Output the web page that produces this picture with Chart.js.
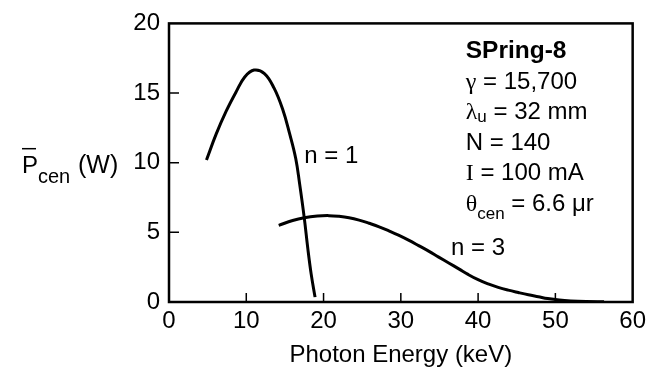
<!DOCTYPE html>
<html>
<head>
<meta charset="utf-8">
<script src="https://cdn.jsdelivr.net/npm/chart.js@4.4.1/dist/chart.umd.min.js"></script>
<style>
  html, body { margin: 0; padding: 0; background: #fff; }
</style>
</head>
<body>
<canvas id="chart" width="651" height="370"></canvas>
<script>
(function () {
  const SANS  = '"Liberation Sans", Arial, sans-serif';
  const SERIF = '"Liberation Serif", "Times New Roman", serif';

  // axis ticks
  const X_TICKS = [0, 10, 20, 30, 40, 50, 60];
  const Y_TICKS = [0, 5, 10, 15, 20];

  // n = 1 harmonic, photon energy (keV) vs central power (W)
  const N1_ENERGY = [4.85, 6.1, 7.4, 8.7, 9.8, 11.0, 12.35, 13.6, 14.7, 15.6, 16.4, 16.9, 17.5, 17.95, 18.4, 18.9];
  const N1_POWER  = [10.2, 12.05, 13.7, 15.1, 16.15, 16.65, 16.4, 15.35, 13.85, 12.1, 10.3, 8.5, 6.06, 3.9, 2.0, 0.35];

  // n = 3 harmonic
  const N3_ENERGY = [14.2, 16.0, 17.5, 19.2, 20.7, 22.0, 23.3, 24.6, 25.9, 27.2, 28.4, 29.7, 31.0, 32.3,
                     33.6, 34.9, 36.2, 37.5, 38.7, 40.0, 41.3, 42.6, 43.9, 45.2, 46.5, 47.8, 49.0, 50.5,
                     52.0, 54.0, 56.3];
  const N3_POWER  = [5.5, 5.85, 6.05, 6.17, 6.2, 6.15, 6.05, 5.88, 5.65, 5.4, 5.12, 4.8, 4.44, 4.05,
                     3.65, 3.22, 2.8, 2.38, 1.98, 1.6, 1.3, 1.05, 0.85, 0.68, 0.52, 0.38, 0.25, 0.14,
                     0.08, 0.04, 0.02];

  // parameter box, one row per line: [text, style]
  const PARAM_LINES = [
    [['SPring-8', 'bold']],
    [['γ', 'greek'], [' = 15,700', 'sans']],
    [['λ', 'greek'], ['u', 'sub'], [' = 32 mm', 'sans']],
    [['N = 140', 'sans']],
    [['I', 'greek'], [' = 100 mA', 'sans']],
    [['θ', 'greek'], ['cen', 'sub'], [' = 6.6 μr', 'sans']],
  ];

  const CURVE_LABELS = [
    { text: 'n = 1', x: 17.5, y: 10.0 },
    { text: 'n = 3', x: 36.5, y: 3.35 },
  ];

  const toPoints = (xs, ys) => xs.map((x, i) => ({ x, y: ys[i] }));

  const FONTS = {
    sans:  '24px ' + SANS,
    bold:  'bold 24.5px ' + SANS,
    greek: '24px ' + SERIF,
    sub:   '17px ' + SANS,
  };

  function drawRuns(ctx, runs, x, baseline) {
    runs.forEach(([text, style]) => {
      ctx.font = FONTS[style];
      const dy = style === 'sub' ? (text === 'u' ? 3 : 8) : 0;
      ctx.fillText(text, x, baseline + dy);
      x += ctx.measureText(text).width;
    });
  }

  const decorPlugin = {
    id: 'decor',
    afterDraw(chart) {
      const { ctx, chartArea: a, scales: { x, y } } = chart;
      ctx.save();
      ctx.strokeStyle = '#000';
      ctx.fillStyle = '#000';

      // frame
      ctx.lineWidth = 2.5;
      ctx.strokeRect(a.left, a.top, a.right - a.left, a.bottom - a.top);

      // inward ticks
      ctx.lineWidth = 1.5;
      ctx.beginPath();
      X_TICKS.slice(1, -1).forEach(v => {
        const px = x.getPixelForValue(v);
        ctx.moveTo(px, a.bottom);
        ctx.lineTo(px, a.bottom - 9);
      });
      Y_TICKS.slice(1, -1).forEach(v => {
        const py = y.getPixelForValue(v);
        ctx.moveTo(a.left, py);
        ctx.lineTo(a.left + 10, py);
      });
      ctx.stroke();

      ctx.textAlign = 'left';
      ctx.textBaseline = 'alphabetic';

      // y axis title: P-bar_cen (W)
      const base = y.getPixelForValue(10) + 10;
      ctx.font = '24px ' + SANS;
      ctx.fillText('P', 22, base);
      ctx.beginPath();
      ctx.lineWidth = 1.5;
      ctx.moveTo(22, base - 24);
      ctx.lineTo(36, base - 24);
      ctx.stroke();
      ctx.font = '20px ' + SANS;
      ctx.fillText('cen', 38, base + 10);
      ctx.font = '25px ' + SANS;
      ctx.fillText('(W)', 78, base);

      // curve labels
      ctx.font = FONTS.sans;
      CURVE_LABELS.forEach(l => {
        ctx.fillText(l.text, x.getPixelForValue(l.x), y.getPixelForValue(l.y));
      });

      // parameter box
      const left = x.getPixelForValue(38.4);
      let line = y.getPixelForValue(17.5);
      PARAM_LINES.forEach(runs => {
        drawRuns(ctx, runs, left, line);
        line += 30.5;
      });

      ctx.restore();
    },
  };

  const curve = (label, xs, ys) => ({
    label,
    data: toPoints(xs, ys),
    borderColor: '#000',
    borderWidth: 3,
    pointRadius: 0,
    fill: false,
    tension: 0.4,
  });

  new Chart(document.getElementById('chart'), {
    type: 'line',
    data: {
      datasets: [
        curve('n = 1', N1_ENERGY, N1_POWER),
        curve('n = 3', N3_ENERGY, N3_POWER),
      ],
    },
    options: {
      responsive: false,
      animation: false,
      devicePixelRatio: 1,
      layout: { padding: { top: 15, right: 16, left: 0, bottom: 0 } },
      plugins: { legend: { display: false }, tooltip: { enabled: false } },
      scales: {
        x: {
          type: 'linear',
          min: 0,
          max: 60,
          afterBuildTicks: s => { s.ticks = X_TICKS.map(v => ({ value: v })); },
          afterFit: s => { s.height = 68; },
          grid: { display: false, drawTicks: false },
          border: { display: false },
          ticks: { color: '#000', padding: 5, font: { family: SANS, size: 24 } },
          title: {
            display: true,
            text: 'Photon Energy (keV)',
            color: '#000',
            padding: { top: 0, bottom: 0 },
            font: { family: SANS, size: 24 },
          },
        },
        y: {
          min: 0,
          max: 20,
          afterBuildTicks: s => { s.ticks = Y_TICKS.map(v => ({ value: v })); },
          afterFit: s => { s.width = 169; },
          grid: { display: false, drawTicks: false },
          border: { display: false },
          ticks: { color: '#000', padding: 9, font: { family: SANS, size: 24 } },
        },
      },
    },
    plugins: [decorPlugin],
  });
})();
</script>
</body>
</html>
